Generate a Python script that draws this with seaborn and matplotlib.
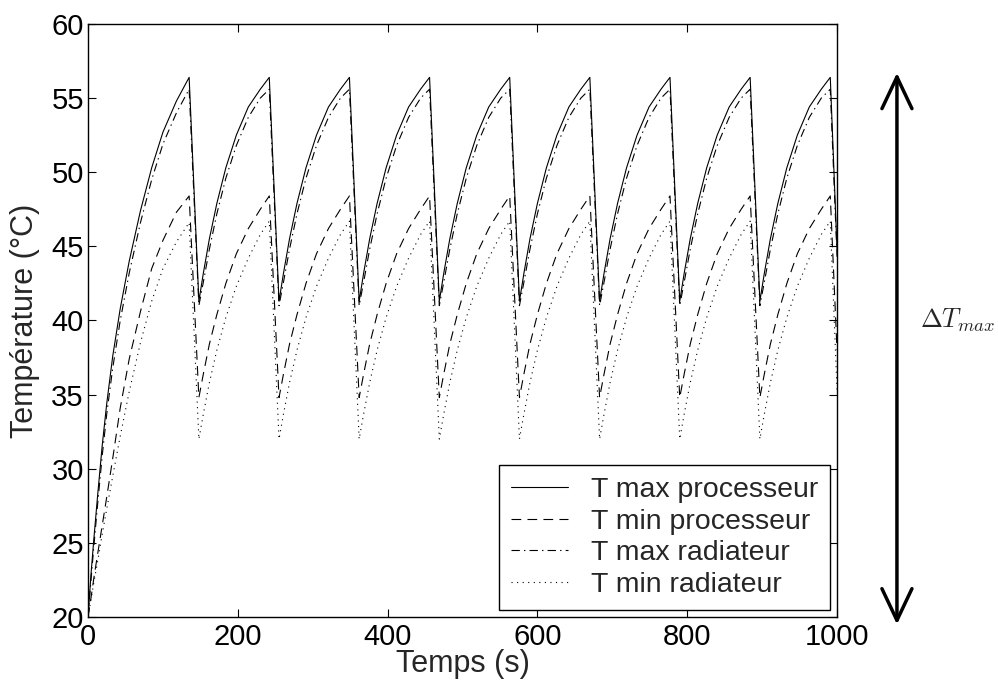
import matplotlib
matplotlib.use("Agg")
import matplotlib.pyplot as plt
import pandas as pd
import seaborn as sns

# ---- data ----
temps = [0, 4, 8, 13, 19, 25, 33, 43, 55, 70, 85, 100, 118, 135,
         148, 154, 162, 172, 184, 198, 214, 230, 242,
         255, 261, 269, 279, 291, 305, 321, 337, 349,
         362, 368, 376, 386, 398, 412, 428, 444, 456,
         469, 475, 483, 493, 505, 519, 535, 551, 563,
         576, 582, 590, 600, 612, 626, 642, 658, 670,
         683, 689, 697, 707, 719, 733, 749, 765, 777,
         790, 796, 804, 814, 826, 840, 856, 872, 884,
         897, 903, 911, 921, 933, 947, 963, 979, 991,
         1000]

t_max_proc = [20.0, 22.9, 25.4, 28.3, 31.6, 34.4, 37.6, 40.8, 44.0, 47.4, 50.3, 52.7, 54.8, 56.4,
              41.3, 43.2, 45.5, 47.9, 50.3, 52.5, 54.4, 55.6, 56.4,
              41.3, 43.2, 45.5, 47.9, 50.3, 52.5, 54.4, 55.6, 56.4,
              41.3, 43.2, 45.5, 47.9, 50.3, 52.5, 54.4, 55.6, 56.4,
              41.3, 43.2, 45.5, 47.9, 50.3, 52.5, 54.4, 55.6, 56.4,
              41.3, 43.2, 45.5, 47.9, 50.3, 52.5, 54.4, 55.6, 56.4,
              41.3, 43.2, 45.5, 47.9, 50.3, 52.5, 54.4, 55.6, 56.4,
              41.3, 43.2, 45.5, 47.9, 50.3, 52.5, 54.4, 55.6, 56.4,
              41.3, 43.2, 45.5, 47.9, 50.3, 52.5, 54.4, 55.6, 56.4,
              44.8]

t_min_proc = [20.0, 21.3, 22.7, 24.3, 26.2, 28.1, 30.7, 34.1, 37.4, 40.6, 43.5, 45.4, 47.3, 48.4,
              34.8, 36.4, 38.4, 40.4, 42.5, 44.5, 46.2, 47.5, 48.4,
              34.8, 36.4, 38.4, 40.4, 42.5, 44.5, 46.2, 47.5, 48.4,
              34.8, 36.4, 38.4, 40.4, 42.5, 44.5, 46.2, 47.5, 48.4,
              34.8, 36.4, 38.4, 40.4, 42.5, 44.5, 46.2, 47.5, 48.4,
              34.8, 36.4, 38.4, 40.4, 42.5, 44.5, 46.2, 47.5, 48.4,
              34.8, 36.4, 38.4, 40.4, 42.5, 44.5, 46.2, 47.5, 48.4,
              34.8, 36.4, 38.4, 40.4, 42.5, 44.5, 46.2, 47.5, 48.4,
              34.8, 36.4, 38.4, 40.4, 42.5, 44.5, 46.2, 47.5, 48.4,
              38.0]

t_max_rad = [20.0, 22.5, 24.9, 27.7, 30.9, 33.7, 36.8, 40.0, 43.2, 46.6, 49.5, 51.9, 54.0, 55.6,
             41.0, 42.6, 44.8, 47.2, 49.6, 51.8, 53.7, 55.0, 55.6,
             41.0, 42.6, 44.8, 47.2, 49.6, 51.8, 53.7, 55.0, 55.6,
             41.0, 42.6, 44.8, 47.2, 49.6, 51.8, 53.7, 55.0, 55.6,
             41.0, 42.6, 44.8, 47.2, 49.6, 51.8, 53.7, 55.0, 55.6,
             41.0, 42.6, 44.8, 47.2, 49.6, 51.8, 53.7, 55.0, 55.6,
             41.0, 42.6, 44.8, 47.2, 49.6, 51.8, 53.7, 55.0, 55.6,
             41.0, 42.6, 44.8, 47.2, 49.6, 51.8, 53.7, 55.0, 55.6,
             41.0, 42.6, 44.8, 47.2, 49.6, 51.8, 53.7, 55.0, 55.6,
             44.3]

t_min_rad = [20.0, 21.2, 22.4, 23.8, 25.6, 27.3, 29.5, 32.2, 35.2, 38.5, 41.3, 43.5, 45.3, 46.6,
             32.0, 33.7, 35.8, 38.0, 40.2, 42.3, 44.2, 45.8, 46.7,
             32.0, 33.7, 35.8, 38.0, 40.2, 42.3, 44.2, 45.8, 46.7,
             32.0, 33.7, 35.8, 38.0, 40.2, 42.3, 44.2, 45.8, 46.7,
             32.0, 33.7, 35.8, 38.0, 40.2, 42.3, 44.2, 45.8, 46.7,
             32.0, 33.7, 35.8, 38.0, 40.2, 42.3, 44.2, 45.8, 46.7,
             32.0, 33.7, 35.8, 38.0, 40.2, 42.3, 44.2, 45.8, 46.7,
             32.0, 33.7, 35.8, 38.0, 40.2, 42.3, 44.2, 45.8, 46.7,
             32.0, 33.7, 35.8, 38.0, 40.2, 42.3, 44.2, 45.8, 46.7,
             35.3]

series_labels = ["T max processeur", "T min processeur",
                 "T max radiateur", "T min radiateur"]
x_ticks = [0, 200, 400, 600, 800, 1000]
y_ticks = [20, 25, 30, 35, 40, 45, 50, 55, 60]
delta_top = 56.7
delta_bottom = 19.5

# ---- style ----
sns.set_theme(style="white")
plt.rcParams["font.family"] = ["Liberation Sans", "DejaVu Sans"]
plt.rcParams["mathtext.fontset"] = "cm"
plt.rcParams["lines.scale_dashes"] = False

fig = plt.figure(figsize=(9.98, 6.87), dpi=100)
ax = fig.add_axes([0.0882, 0.1019, 0.7505, 0.8632])

df = pd.DataFrame({"Temps": temps,
                   series_labels[0]: t_max_proc,
                   series_labels[1]: t_min_proc,
                   series_labels[2]: t_max_rad,
                   series_labels[3]: t_min_rad})

styles = ["-", (0, (7, 4.5)), (0, (6, 3, 1, 3)), (0, (0.8, 3.2))]
for lab, ls in zip(series_labels, styles):
    sns.lineplot(data=df, x="Temps", y=lab, ax=ax, color="black",
                 linestyle=ls, linewidth=0.8, label=lab,
                 estimator=None, sort=False)

ax.set_xlim(0, 1000)
ax.set_ylim(20, 60)
ax.set_xticks(x_ticks)
ax.set_yticks(y_ticks)
ax.tick_params(direction="in", length=6, width=0.8, top=True, right=True,
               labelsize=21, colors="black", pad=4,
               bottom=True, left=True)
ax.tick_params(axis="y", pad=3)
for s in ax.spines.values():
    s.set_color("black")
    s.set_linewidth(1.0)
ax.set_xlabel("Temps (s)", fontsize=22, labelpad=-1)
ax.set_ylabel("Température (°C)", fontsize=22, labelpad=8)

leg = ax.legend(loc="lower right", fontsize=20.5, frameon=True, fancybox=False,
                edgecolor="black", framealpha=1, handlelength=2.0,
                handletextpad=0.8, labelspacing=0.2, borderpad=0.42,
                borderaxespad=0.25)
leg.get_frame().set_linewidth(1.0)

# Delta T max double arrow outside the axes
ax.annotate("", xy=(1.080, delta_top), xytext=(1.080, delta_bottom),
            xycoords=("axes fraction", "data"),
            textcoords=("axes fraction", "data"),
            arrowprops=dict(arrowstyle="<->,head_length=1.9,head_width=0.9",
                            mutation_scale=12, color="black", lw=2.5,
                            shrinkA=0, shrinkB=0),
            annotation_clip=False)
ax.text(1.111, 40.0, r"$\Delta T_{max}$", transform=ax.get_yaxis_transform(),
        fontsize=19, va="center", ha="left", clip_on=False)

fig.savefig("out.png", dpi=100)
